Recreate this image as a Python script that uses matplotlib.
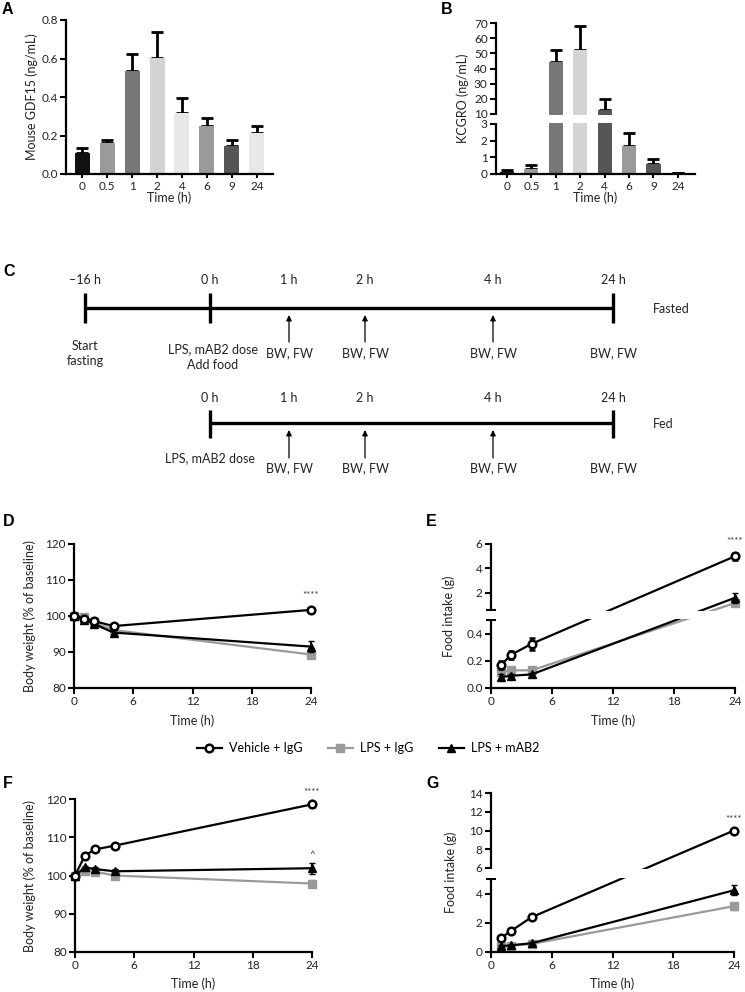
import numpy as np
import matplotlib
matplotlib.use("Agg")
import matplotlib.pyplot as plt
from matplotlib.transforms import blended_transform_factory as btf
from matplotlib.patches import Rectangle
from matplotlib.ticker import FixedLocator, NullFormatter

plt.rcParams['font.family'] = ['Lato', 'DejaVu Sans']
NARROW = ['Liberation Sans Narrow', 'Lato', 'DejaVu Sans']

# ---------------- data ----------------
bar_times = ['0', '0.5', '1', '2', '4', '6', '9', '24']
gdf15 = [0.108, 0.159, 0.535, 0.604, 0.318, 0.248, 0.145, 0.211]
gdf15_err = [0.025, 0.018, 0.087, 0.132, 0.075, 0.044, 0.032, 0.040]
gdf15_colors = ['#111111', '#9a9a9a', '#777777', '#d3d3d3', '#e8e8e8', '#9a9a9a', '#555555', '#e8e8e8']
kcgro = [0.14, 0.30, 44.0, 52.5, 12.5, 1.7, 0.6, 0.06]
kcgro_err = [0.10, 0.25, 8.0, 15.5, 7.2, 0.75, 0.28, 0.03]
kcgro_colors = ['#1a1a1a', '#9a9a9a', '#777777', '#d4d4d4', '#555555', '#9a9a9a', '#555555', '#555555']

bw_t = [0, 1, 2, 4, 24]
fi_t = [1, 2, 4, 24]
series_names = ['Vehicle + IgG', 'LPS + IgG', 'LPS + mAB2']

# D: fasted body weight (% of baseline)
D_veh = [100, 99.3, 98.6, 97.2, 101.7]
D_veh_e = [0, 0.3, 0.4, 0.5, 0.4]
D_igg = [100, 99.6, 98.2, 96.1, 89.3]
D_igg_e = [0, 0.4, 0.5, 0.6, 0.8]
D_mab = [100, 99.0, 97.8, 95.4, 91.5]
D_mab_e = [0, 0.4, 0.5, 0.6, 1.6]

# E: fasted food intake (g)
E_veh = [0.17, 0.245, 0.325, 5.0]
E_veh_e = [0.03, 0.03, 0.045, 0.3]
E_igg = [0.12, 0.13, 0.13, 1.17]
E_igg_e = [0.01, 0.01, 0.01, 0.12]
E_mab = [0.08, 0.09, 0.10, 1.6]
E_mab_e = [0.02, 0.01, 0.01, 0.4]

# F: fed body weight (% of baseline)
F_veh = [100, 105.2, 106.8, 107.8, 118.6]
F_veh_e = [0, 0.5, 0.5, 0.5, 0.6]
F_igg = [100, 101.3, 101.0, 100.0, 97.9]
F_igg_e = [0, 0.4, 0.4, 0.5, 0.8]
F_mab = [100, 102.1, 101.7, 101.1, 101.9]
F_mab_e = [0, 0.5, 0.5, 0.5, 1.4]

# G: fed food intake (g)
G_veh = [0.97, 1.45, 2.38, 10.0]
G_veh_e = [0.1, 0.1, 0.15, 0.2]
G_igg = [0.41, 0.44, 0.55, 3.14]
G_igg_e = [0.05, 0.05, 0.05, 0.25]
G_mab = [0.40, 0.46, 0.60, 4.23]
G_mab_e = [0.05, 0.05, 0.08, 0.35]

# tick labels
A_yticks = [0.0, 0.2, 0.4, 0.6, 0.8]
B_yticks = [0, 1, 2, 3, 10, 20, 30, 40, 50, 60, 70]
BW_yticks = [80, 90, 100, 110, 120]
E_yticks = [0.0, 0.2, 0.4, 2, 4, 6]
E_yticklabels = ['0.0', '0.2', '0.4', '2', '4', '6']
G_yticks = [0, 2, 4, 6, 8, 10, 12, 14]
time_ticks = [0, 6, 12, 18, 24]

# timeline (panel C)
fasted_labels = ['\u201316 h', '0 h', '1 h', '2 h', '4 h', '24 h']
fed_labels = ['0 h', '1 h', '2 h', '4 h', '24 h']

# ---------------- layout helpers ----------------
W, H = 745, 992
fig = plt.figure(figsize=(W / 100, H / 100), dpi=100)
TICK_FS = 8.5
LAB_FS = 9


def box(x0, y0, x1, y1):
    return [x0 / W, 1 - y1 / H, (x1 - x0) / W, (y1 - y0) / H]


def style(ax):
    for s in ['top', 'right']:
        ax.spines[s].set_visible(False)
    for s in ['left', 'bottom']:
        ax.spines[s].set_linewidth(1.6)
    ax.tick_params(width=1.5, length=4, labelsize=TICK_FS, pad=2, labelcolor='#222222', color='black')


def labels(ax, ylab, ylab_x, xlab, xlab_y):
    ax.set_ylabel(ylab, fontsize=LAB_FS, color='#222222')
    ax.yaxis.set_label_coords(ylab_x / W, 0.5, transform=btf(fig.transFigure, ax.transAxes))
    ax.set_xlabel(xlab, fontsize=LAB_FS, color='#222222')
    ax.xaxis.set_label_coords(0.5, 1 - xlab_y / H, transform=btf(ax.transAxes, fig.transFigure))


def piecewise(d, p):
    d = np.asarray(d, float)
    p = np.asarray(p, float)
    s0 = (p[1] - p[0]) / (d[1] - d[0])
    s1 = (p[-1] - p[-2]) / (d[-1] - d[-2])

    def fwd(y):
        y = np.asarray(y, float)
        out = np.interp(y, d, p)
        out = np.where(y < d[0], p[0] + (y - d[0]) * s0, out)
        out = np.where(y > d[-1], p[-1] + (y - d[-1]) * s1, out)
        return out

    def inv(v):
        v = np.asarray(v, float)
        out = np.interp(v, p, d)
        out = np.where(v < p[0], d[0] + (v - p[0]) / s0, out)
        out = np.where(v > p[-1], d[-1] + (v - p[-1]) / s1, out)
        return out
    return fwd, inv


def broken(ax, d, p, lo, hi, width_px):
    fwd, inv = piecewise(d, p)
    ax.set_yscale('function', functions=(fwd, inv))
    ax.set_ylim(d[0], d[-1])
    tot = p[-1] - p[0]
    f0 = (float(fwd(lo)) - p[0]) / tot + 1.2 / tot
    f1 = (float(fwd(hi)) - p[0]) / tot - 1.2 / tot
    x0 = -3.0 / width_px
    ax.add_patch(Rectangle((x0, f0), 1.02 - x0, f1 - f0, transform=ax.transAxes,
                           facecolor='white', edgecolor='none', zorder=6, clip_on=False))


STY = {
    'veh': dict(color='black', marker='o', mfc='white', mec='black', ms=5.5, mew=1.8, zorder=4),
    'igg': dict(color='#9a9a9a', marker='s', mfc='#9a9a9a', mec='#9a9a9a', ms=5.5, mew=1, zorder=2),
    'mab': dict(color='black', marker='^', mfc='black', mec='black', ms=5.5, mew=1, zorder=3),
}


def series(ax, x, y, e, kind):
    c = ax.errorbar(x, y, yerr=e, lw=1.6, capsize=2.5, elinewidth=1.4, capthick=1.4, **STY[kind])
    for art in c.get_children():
        art.set_clip_on(False)
    return c


def stars(ax, x, y, txt, off=7, fs=7):
    ax.annotate(txt, xy=(x, y), xytext=(0, off), textcoords='offset points',
                ha='center', va='bottom', fontsize=fs, color='#333333')


# ---------------- panel A ----------------
axA = fig.add_axes(box(66, 20, 273, 174))
style(axA)
xa = np.arange(len(bar_times))
axA.bar(xa, gdf15, width=0.6, color=gdf15_colors, zorder=2)
axA.errorbar(xa, gdf15, yerr=[np.zeros(len(xa)), gdf15_err], fmt='none', ecolor='black',
             elinewidth=2, capsize=4, capthick=2, zorder=1)
axA.set_xlim(-0.65, 7.65)
axA.set_ylim(0, 0.8)
axA.set_yticks(A_yticks, [f'{v:.1f}' for v in A_yticks])
axA.set_xticks(xa, bar_times)
axA.tick_params(axis='x', length=3)
labels(axA, 'Mouse GDF15 (ng/mL)', 38, 'Time (h)', 191)

# ---------------- panel B ----------------
axB = fig.add_axes(box(496, 23, 695, 174))
style(axB)
broken(axB, [0, 3, 10, 70], [0, 50, 60, 151], 3, 10, 199)
axB.bar(xa, kcgro, width=0.58, color=kcgro_colors, zorder=2)
axB.errorbar(xa, kcgro, yerr=[np.zeros(len(xa)), kcgro_err], fmt='none', ecolor='black',
             elinewidth=2, capsize=4, capthick=2, zorder=1)
axB.set_xlim(-0.45, 7.7)
axB.set_yticks(B_yticks, [str(v) for v in B_yticks])
axB.set_xticks(xa, bar_times)
axB.tick_params(axis='x', length=3)
labels(axB, 'KCGRO (ng/mL)', 469, 'Time (h)', 191)

# ---------------- panel C (timeline) ----------------
axC = fig.add_axes([0, 0, 1, 1])
axC.set_xlim(0, W)
axC.set_ylim(H, 0)
axC.axis('off')
axC.patch.set_alpha(0)

fx = [85, 210, 289, 365, 493, 613]
CFS = 9
tkw = dict(fontsize=CFS, family=NARROW, color='#222222', ha='center')
# fasted row
axC.plot([fx[0], fx[-1]], [308, 308], color='black', lw=2.4, solid_capstyle='butt')
for x in (fx[0], fx[1], fx[-1]):
    axC.plot([x, x], [293, 323], color='black', lw=2.4, solid_capstyle='butt')
for x, lab in zip(fx, fasted_labels):
    axC.text(x, 280, lab, va='center', **tkw)
for x in fx[2:5]:
    axC.annotate('', xy=(x, 315), xytext=(x, 342),
                 arrowprops=dict(arrowstyle='-|>', color='black', lw=0.9, mutation_scale=8,
                                 shrinkA=0, shrinkB=0))
axC.text(fx[0], 346, 'Start', va='center', **tkw)
axC.text(fx[0], 361, 'fasting', va='center', **tkw)
axC.text(fx[1] + 3, 349, 'LPS, mAB2 dose', va='center', **tkw)
axC.text(fx[1] + 3, 365, 'Add food', va='center', **tkw)
for x in fx[2:]:
    axC.text(x, 353, 'BW, FW', va='center', **tkw)
axC.text(653, 309, 'Fasted', va='center', fontsize=CFS, family=NARROW, color='#222222', ha='left')
# fed row
gx = fx[1:]
axC.plot([gx[0], gx[-1]], [423, 423], color='black', lw=2.4, solid_capstyle='butt')
for x in (gx[0], gx[-1]):
    axC.plot([x, x], [410, 438], color='black', lw=2.4, solid_capstyle='butt')
for x, lab in zip(gx, fed_labels):
    axC.text(x, 398, lab, va='center', **tkw)
for x in gx[1:4]:
    axC.annotate('', xy=(x, 430), xytext=(x, 458),
                 arrowprops=dict(arrowstyle='-|>', color='black', lw=0.9, mutation_scale=8,
                                 shrinkA=0, shrinkB=0))
axC.text(gx[0], 458, 'LPS, mAB2 dose', va='center', **tkw)
for x in gx[1:]:
    axC.text(x, 468, 'BW, FW', va='center', **tkw)
axC.text(653, 424, 'Fed', va='center', fontsize=CFS, family=NARROW, color='#222222', ha='left')

# ---------------- panel D ----------------
axD = fig.add_axes(box(74, 544, 311, 688))
style(axD)
hD_igg = series(axD, bw_t, D_igg, D_igg_e, 'igg')
hD_mab = series(axD, bw_t, D_mab, D_mab_e, 'mab')
hD_veh = series(axD, bw_t, D_veh, D_veh_e, 'veh')
axD.set_xlim(0, 24)
axD.set_ylim(80, 120)
axD.set_yticks(BW_yticks)
axD.set_xticks(time_ticks)
stars(axD, 24, D_veh[-1], '****', 7)
labels(axD, 'Body weight (% of baseline)', 36, 'Time (h)', 714)

# ---------------- panel E ----------------
axE = fig.add_axes(box(491, 544, 735, 688))
style(axE)
broken(axE, [0, 0.5, 0.6, 6], [0, 68, 78, 144], 0.5, 0.6, 244)
series(axE, fi_t, E_igg, E_igg_e, 'igg')
series(axE, fi_t, E_mab, E_mab_e, 'mab')
series(axE, fi_t, E_veh, E_veh_e, 'veh')
axE.set_xlim(0, 24)
axE.set_yticks(E_yticks, E_yticklabels)
axE.yaxis.set_minor_locator(FixedLocator([0.5, 0.6]))
axE.yaxis.set_minor_formatter(NullFormatter())
axE.tick_params(axis='y', which='minor', direction='inout', length=7, width=1.5)
axE.set_xticks(time_ticks)
stars(axE, 24, E_veh[-1], '****', 7)
labels(axE, 'Food intake (g)', 455, 'Time (h)', 714)

# ---------------- legend ----------------
handles = [hD_veh[0], hD_igg[0], hD_mab[0]]
fig.legend(handles, series_names, loc='center', bbox_to_anchor=(368 / W, 1 - 748 / H),
           ncol=3, frameon=False, handlelength=2.0, columnspacing=2.0,
           handletextpad=0.6, prop={'family': NARROW, 'size': 9})

# ---------------- panel F ----------------
axF = fig.add_axes(box(75, 799, 312, 952))
style(axF)
series(axF, bw_t, F_igg, F_igg_e, 'igg')
series(axF, bw_t, F_mab, F_mab_e, 'mab')
series(axF, bw_t, F_veh, F_veh_e, 'veh')
axF.set_xlim(0, 24)
axF.set_ylim(80, 120)
axF.set_yticks(BW_yticks)
axF.set_xticks(time_ticks)
stars(axF, 24, F_veh[-1], '****', 5)
stars(axF, 24, F_mab[-1] + F_mab_e[-1], '^', 3)
labels(axF, 'Body weight (% of baseline)', 36, 'Time (h)', 977)

# ---------------- panel G ----------------
axG = fig.add_axes(box(491, 793, 734, 952))
style(axG)
broken(axG, [0, 5, 6, 14], [0, 73, 84, 159], 5, 6, 243)
series(axG, fi_t, G_igg, G_igg_e, 'igg')
series(axG, fi_t, G_mab, G_mab_e, 'mab')
series(axG, fi_t, G_veh, G_veh_e, 'veh')
axG.set_xlim(0, 24)
axG.set_yticks(G_yticks, [str(v) for v in G_yticks])
axG.yaxis.set_minor_locator(FixedLocator([5]))
axG.yaxis.set_minor_formatter(NullFormatter())
axG.tick_params(axis='y', which='minor', direction='inout', length=7, width=1.5)
axG.set_xticks(time_ticks)
stars(axG, 24, G_veh[-1], '****', 5)
labels(axG, 'Food intake (g)', 457, 'Time (h)', 977)

# ---------------- panel letters ----------------
for lab, x, y in [('A', 2, 10), ('B', 441, 10), ('C', 3, 272), ('D', 3, 522),
                  ('E', 426, 522), ('F', 3, 783), ('G', 426, 783)]:
    fig.text(x / W, 1 - y / H, lab, fontsize=11.5, fontweight='bold', family=['Liberation Sans', 'DejaVu Sans'],
             va='center', ha='left', color='black')

fig.savefig('out.png', dpi=100)
